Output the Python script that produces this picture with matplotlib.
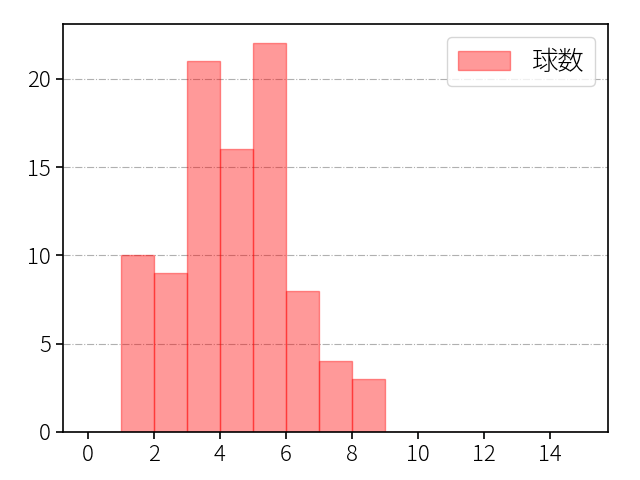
import matplotlib
matplotlib.use("Agg")
import matplotlib.pyplot as plt

plt.rcParams['font.family'] = ['Noto Sans CJK JP', 'DejaVu Sans']

# bin edges 0..15, counts per bin
bin_left = list(range(0, 15))
counts = [0, 10, 9, 21, 16, 22, 8, 4, 3, 0, 0, 0, 0, 0, 0]
label = '球数'

fig, ax = plt.subplots(figsize=(6.4, 4.8), dpi=100)
ax.bar(bin_left, counts, width=1, align='edge', color='red', alpha=0.4,
       edgecolor='red', linewidth=1, label=label)
ax.set_xticks(range(0, 15, 2))
ax.grid(axis='y', linestyle='-.', color='#b0b0b0')
ax.set_axisbelow(True)
ax.tick_params(labelsize=16, length=5, width=1.2)
for lbl in ax.get_xticklabels() + ax.get_yticklabels():
    lbl.set_fontweight('light')
for s in ax.spines.values():
    s.set_linewidth(1.2)
leg = ax.legend(loc='upper right', fontsize=19)
for t in leg.get_texts():
    t.set_fontweight('light')
fig.subplots_adjust(left=0.098, right=0.95, top=0.95, bottom=0.1)
fig.savefig('out.png')
